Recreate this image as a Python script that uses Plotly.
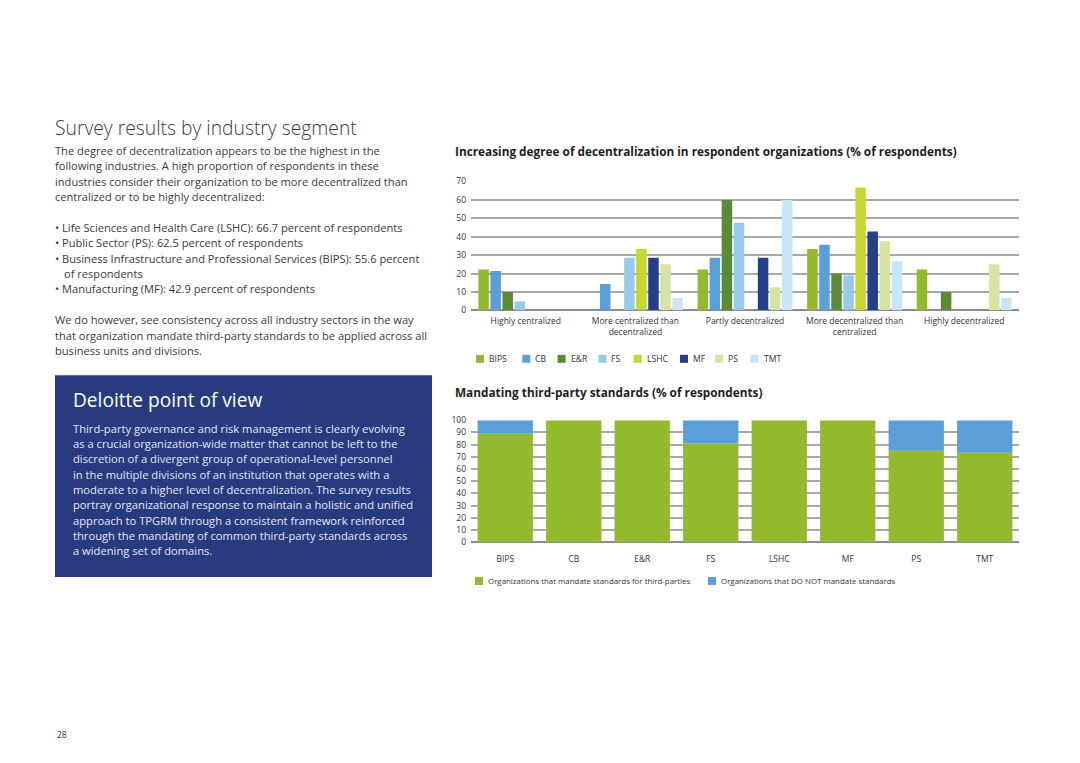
import plotly.graph_objects as go

W, H = 1080, 763
# measured vertical mapping of the photographed page: shown_y = A * y + B
A, B = 0.9867, 4.3


def px(x):
    return x / W


def py(y):
    return 1 - ((y - B) / A) / H


# ---------------- data ----------------
stages = ["Highly centralized", "More centralized than<br>decentralized",
          "Partly decentralized", "More decentralized than<br>centralized",
          "Highly decentralized"]
segments = ["BIPS", "CB", "E&R", "FS", "LSHC", "MF", "PS", "TMT"]

bips = [22.2, 0, 22.2, 33.3, 22.2]
cb = [21.4, 14.3, 28.6, 35.7, 0]
er = [10.0, 0, 60.0, 20.0, 10.0]
fs = [4.8, 28.6, 47.6, 19.0, 0]
lshc = [0, 33.3, 0, 66.7, 0]
mf = [0, 28.6, 28.6, 42.9, 0]
ps = [0, 25.0, 12.5, 37.5, 25.0]
tmt = [0, 6.7, 60.0, 26.7, 6.7]

mandate = [88.9, 100, 100, 81.0, 100, 100, 75.0, 73.3]
not_mandate = [11.1, 0, 0, 19.0, 0, 0, 25.0, 26.7]
mandate_labels = ["Organizations that mandate standards for third-parties",
                  "Organizations that DO NOT mandate standards"]

# ---------------- style ----------------
seg_colors = ["#93B92D", "#5A9EDA", "#5B8A37", "#96CBEF",
              "#C8D632", "#263F8A", "#D6E3A3", "#C9E5F8"]
green = "#93B92D"
blue = "#5A9EDA"
grid = "#A8A8A8"
text_col = "#3A3A3A"
FONT = "Open Sans"

fig = go.Figure()

for name, vals, col in zip(segments, [bips, cb, er, fs, lshc, mf, ps, tmt], seg_colors):
    fig.add_trace(go.Bar(x=stages, y=vals, name=name, marker_color=col,
                         marker_line_width=0, xaxis="x", yaxis="y",
                         showlegend=False))

fig.add_trace(go.Bar(x=segments, y=mandate, name=mandate_labels[0],
                     marker_color=green, marker_line_width=0, width=0.807,
                     offsetgroup="m", xaxis="x2", yaxis="y2", showlegend=False))
fig.add_trace(go.Bar(x=segments, y=not_mandate, base=mandate, name=mandate_labels[1],
                     marker_color=blue, marker_line_width=0, width=0.807,
                     offsetgroup="m", xaxis="x2", yaxis="y2", showlegend=False))

axis_font = dict(family=FONT, size=8.5, color="#333333")

fig.update_layout(
    width=W, height=H,
    margin=dict(l=0, r=0, t=0, b=0),
    paper_bgcolor="white", plot_bgcolor="white",
    barmode="group", bargap=0.12, bargroupgap=0.13,
    font=dict(family=FONT, color=text_col),
    xaxis=dict(domain=[px(471), px(1019)], anchor="y", showgrid=False,
               showline=False, ticks="", tickfont=axis_font, ticklabelstandoff=4),
    yaxis=dict(domain=[py(309), py(180)], anchor="x", range=[0, 70],
               dtick=10, showgrid=True, gridcolor=grid, gridwidth=1.5,
               zeroline=True, zerolinecolor="#8C8C8C", zerolinewidth=1.5,
               showline=False, ticks="", tickfont=axis_font, ticklabelstandoff=4),
    xaxis2=dict(domain=[px(471), px(1019)], anchor="y2", showgrid=False,
                showline=False, ticks="", tickfont=axis_font, ticklabelstandoff=10),
    yaxis2=dict(domain=[py(541), py(419)], anchor="x2", range=[0, 100],
                dtick=10, showgrid=True, gridcolor=grid, gridwidth=1.5,
                zeroline=True, zerolinecolor="#8C8C8C", zerolinewidth=1.5,
                showline=False, ticks="", tickfont=axis_font, ticklabelstandoff=4),
)

annotations = []
shapes = []


def add_text(x, y, text, size=11.1, color=text_col, weight="normal", family=FONT):
    annotations.append(dict(x=px(x), y=py(y), xref="paper", yref="paper",
                            xanchor="left", yanchor="middle", showarrow=False,
                            text=text, align="left",
                            font=dict(family=family, size=size, color=color,
                                      weight=weight)))


# left column
add_text(53, 125.5, "Survey results by industry segment", size=19.3, color="#3C3C3C", weight=300)
body1 = ["The degree of decentralization appears to be the highest in the",
         "following industries. A high proportion of respondents in these",
         "industries consider their organization to be more decentralized than",
         "centralized or to be highly decentralized:"]
for i, line in enumerate(body1):
    add_text(53, 149 + i * 15.3, line)
bullets = [(53, 226, "• Life Sciences and Health Care (LSHC): 66.7 percent of respondents"),
           (53, 241.3, "• Public Sector (PS): 62.5 percent of respondents"),
           (53, 256.6, "• Business Infrastructure and Professional Services (BIPS): 55.6 percent"),
           (62, 271.9, "of respondents"),
           (53, 287.2, "• Manufacturing (MF): 42.9 percent of respondents")]
for x, y, line in bullets:
    add_text(x, y, line)
body2 = ["We do however, see consistency across all industry sectors in the way",
         "that organization mandate third-party standards to be applied across all",
         "business units and divisions."]
for i, line in enumerate(body2):
    add_text(53, 318.5 + i * 15.3, line)

# blue box
shapes.append(dict(type="rect", xref="paper", yref="paper",
                   x0=px(55), x1=px(432), y0=py(576), y1=py(374),
                   fillcolor="#273B7E", line=dict(width=0), layer="below"))
add_text(71, 399, "Deloitte point of view", size=19.1, color="white")
box_lines = ["Third-party governance and risk management is clearly evolving",
             "as a crucial organization-wide matter that cannot be left to the",
             "discretion of a divergent group of operational-level personnel",
             "in the multiple divisions of an institution that operates with a",
             "moderate to a higher level of decentralization. The survey results",
             "portray organizational response to maintain a holistic and unified",
             "approach to TPGRM through a consistent framework reinforced",
             "through the mandating of common third-party standards across",
             "a widening set of domains."]
for i, line in enumerate(box_lines):
    add_text(71, 427 + i * 15.35, line, size=11.2, color="#E2E6F1")

# chart titles
add_text(453, 149.5, "Increasing degree of decentralization in respondent organizations (% of respondents)",
         size=11.8, color="#1E1E1E", weight="bold")
add_text(453, 390.5, "Mandating third-party standards (% of respondents)",
         size=11.8, color="#1E1E1E", weight="bold")

# legend 1 (segments)
lx = 476
for name, col in zip(segments, seg_colors):
    shapes.append(dict(type="rect", xref="paper", yref="paper",
                       x0=px(lx), x1=px(lx + 8), y0=py(361.5), y1=py(353.5),
                       fillcolor=col, line=dict(width=0)))
    add_text(lx + 11, 357.5, name, size=8.6, color="#333333")
    lx += 24.3 + 5.5 * len(name)

# legend 2
for name, col, lx in zip(mandate_labels, [green, blue], [475, 708]):
    shapes.append(dict(type="rect", xref="paper", yref="paper",
                       x0=px(lx), x1=px(lx + 8), y0=py(584), y1=py(576),
                       fillcolor=col, line=dict(width=0)))
    add_text(lx + 11, 580, name, size=7.9, color="#333333")

add_text(55, 733.5, "28", size=8.5, color="#333333")

fig.update_layout(annotations=annotations, shapes=shapes)
fig.write_html("out.html", config={"displayModeBar": False},
               post_script="document.documentElement.style.margin='0';document.body.style.margin='0';document.body.style.overflow='hidden';")
